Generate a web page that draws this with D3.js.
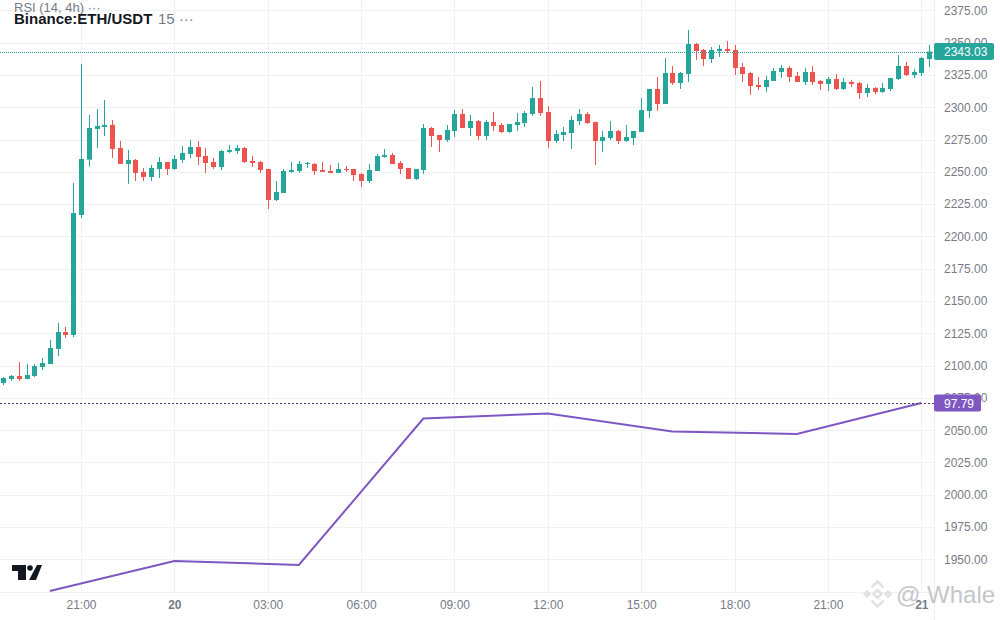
<!DOCTYPE html>
<html>
<head>
<meta charset="utf-8">
<script src="https://cdn.jsdelivr.net/npm/d3@7"></script>
<style>
body { margin: 0; background: #fff; overflow: hidden; }
text { font-family: "Liberation Sans", Arial, sans-serif; }
</style>
</head>
<body>
<script>
// 15 min candles, the first one opens 2.5h before the 21:00 tick
var firstCandleHour = -2.5;
var candleHours = 0.25;

var opens = [
2086.5,2089.6,2092.0,2089.6,2092.0,2098.9,2101.2,2112.9,2126.0,2123.7,
2216.6,2259.4,2283.2,2284.7,2286.3,2268.4,2256.1,2259.2,2249.9,2246.0,
2252.2,2257.6,2252.2,2259.2,2263.8,2269.2,2262.3,2257.6,2253.7,2265.4,
2266.1,2268.4,2258.4,2257.6,2252.2,2228.2,2233.6,2249.9,2250.6,2256.1,
2256.1,2251.4,2250.6,2249.1,2252.2,2252.2,2248.3,2242.9,2250.6,2261.5,
2263.0,2256.8,2253.0,2244.4,2251.4,2283.9,2278.5,2274.6,2281.6,2294.7,
2283.9,2289.3,2277.7,2288.6,2286.2,2280.8,2286.2,2287.8,2294.7,2307.1,
2296.3,2273.8,2278.5,2280.0,2289.3,2294.7,2288.6,2273.8,2276.2,2281.6,
2273.8,2276.2,2280.8,2297.1,2314.1,2302.5,2326.5,2318.7,2325.7,2348.9,
2344.3,2337.3,2343.5,2345.1,2344.3,2331.1,2326.5,2317.2,2315.6,2320.3,
2327.3,2330.4,2324.2,2319.5,2327.3,2320.3,2318.0,2321.8,2314.1,2319.5,
2318.7,2311.0,2314.9,2311.8,2314.1,2321.8,2331.9,2324.9,2326.5,2337.3];

var highs = [
2091.2,2092.7,2102.8,2101.2,2101.2,2105.9,2119.8,2133.0,2129.9,2241.4,
2333.5,2294.0,2298.6,2305.6,2290.1,2273.9,2266.9,2259.9,2253.0,2255.3,
2261.5,2257.6,2263.0,2270.0,2274.6,2273.9,2268.4,2260.7,2266.9,2270.8,
2270.8,2269.2,2262.3,2258.4,2252.2,2242.9,2252.2,2257.6,2258.4,2257.6,
2256.8,2257.6,2255.3,2256.8,2254.5,2252.2,2249.1,2256.0,2263.8,2267.7,
2264.6,2258.4,2253.0,2252.2,2287.0,2284.7,2278.5,2286.2,2297.8,2298.6,
2294.0,2290.1,2290.1,2296.3,2287.8,2287.0,2295.5,2297.1,2315.6,2320.3,
2300.9,2282.4,2284.7,2293.2,2298.6,2296.3,2288.6,2281.6,2289.3,2282.4,
2286.2,2281.6,2307.1,2314.1,2323.4,2338.1,2331.9,2327.3,2359.8,2349.7,
2345.1,2346.6,2348.2,2351.2,2348.2,2334.2,2327.3,2323.4,2324.2,2330.4,
2332.7,2331.9,2327.3,2330.4,2331.9,2321.1,2323.4,2325.7,2322.6,2321.1,
2319.5,2318.0,2315.6,2318.7,2322.6,2340.4,2335.0,2329.6,2338.9,2348.2];

var lows = [
2085.0,2088.1,2088.1,2089.6,2091.2,2096.6,2101.2,2107.4,2121.4,2122.1,
2214.3,2254.0,2268.4,2277.7,2260.7,2256.1,2240.6,2242.9,2242.9,2242.9,
2245.2,2247.6,2251.4,2256.8,2260.7,2255.3,2249.1,2252.2,2251.4,2264.6,
2263.8,2256.8,2253.7,2249.1,2221.2,2227.4,2233.6,2249.1,2249.1,2253.0,
2247.6,2249.9,2249.1,2249.1,2249.9,2242.9,2238.2,2241.3,2250.6,2260.7,
2256.0,2248.3,2244.4,2243.7,2248.3,2269.2,2265.3,2273.1,2276.9,2283.9,
2277.7,2274.6,2274.6,2281.6,2280.0,2280.0,2281.6,2284.7,2293.2,2293.2,
2268.4,2272.3,2273.8,2267.7,2286.2,2287.0,2255.3,2265.3,2274.6,2271.5,
2273.1,2270.8,2280.8,2291.6,2297.1,2302.5,2317.2,2314.1,2319.5,2336.5,
2331.9,2334.2,2338.9,2342.0,2324.9,2319.5,2309.5,2313.3,2311.8,2320.3,
2322.6,2319.5,2319.5,2317.2,2317.2,2313.3,2312.5,2313.3,2313.3,2315.6,
2306.4,2307.9,2310.2,2311.0,2312.5,2321.1,2324.2,2322.6,2324.2,2331.1];

var closes = [
2090.4,2092.0,2089.6,2092.7,2099.7,2102.0,2113.6,2126.0,2123.7,2218.1,
2259.9,2283.9,2285.5,2286.3,2267.7,2256.1,2259.2,2249.1,2246.0,2253.0,
2257.6,2252.2,2259.9,2264.6,2269.2,2261.5,2256.8,2253.7,2266.1,2266.9,
2268.4,2257.6,2256.8,2251.4,2228.2,2234.4,2250.6,2251.4,2256.1,2256.8,
2250.6,2249.9,2249.1,2252.2,2251.4,2247.5,2242.9,2251.4,2262.2,2263.0,
2256.0,2252.2,2244.4,2252.2,2283.9,2277.7,2274.6,2282.4,2294.7,2283.9,
2289.3,2277.7,2288.6,2285.5,2280.8,2287.0,2288.6,2295.5,2307.1,2295.5,
2273.8,2279.3,2280.8,2290.1,2294.7,2287.8,2273.8,2276.9,2281.6,2273.8,
2276.9,2281.6,2297.8,2314.1,2302.5,2326.5,2318.7,2326.5,2348.9,2343.5,
2337.3,2344.3,2345.1,2343.5,2330.4,2325.7,2316.4,2315.6,2321.1,2328.0,
2330.4,2323.4,2319.5,2327.3,2319.5,2318.0,2321.8,2314.1,2319.5,2318.0,
2311.0,2314.9,2311.8,2314.9,2322.6,2331.9,2324.9,2327.3,2338.1,2343.03];

// RSI (14, 4h) has its own hidden scale
var rsiHours = [-1, 3, 7, 11, 15, 19, 23, 27];
var rsiValues = [60.2, 66.2, 65.4, 94.7, 95.7, 92.1, 91.6, 97.79];

var priceTicks = [1950,1975,2000,2025,2050,2075,2100,2125,2150,2175,2200,2225,2250,2275,2300,2325,2350,2375];
var gridPrices = [1925].concat(priceTicks);
var timeTickHours = [0, 3, 6, 9, 12, 15, 18, 21, 24, 27];
var timeTickLabels = ["21:00", "20", "03:00", "06:00", "09:00", "12:00", "15:00", "18:00", "21:00", "21"];
var boldTimeTicks = ["20", "21"];

var lastPrice = 2343.03;
var lastRsi = 97.79;

var upColor = "#26a69a", downColor = "#ef5350", rsiColor = "#7e57c2";
var gridColor = "#f0f1f3", textColor = "#787b86";
var plotRight = 934, plotBottom = 592;

var svg = d3.select("body").append("svg")
.attr("width", 1000)
.attr("height", 620);

var x = d3.scaleLinear().domain([0, 27]).range([81, 921.3]);
var y = d3.scaleLinear().domain([1950, 2375]).range([559.4, 10.3]);
var rsiY = d3.scaleLinear().domain([60, 100]).range([592, 392]);

// grid
svg.append("g").selectAll("line")
.data(gridPrices)
.join("line")
.attr("x1", 0)
.attr("x2", plotRight)
.attr("y1", d => Math.round(y(d)) + 0.5)
.attr("y2", d => Math.round(y(d)) + 0.5)
.attr("stroke", gridColor);

svg.append("g").selectAll("line")
.data(timeTickHours)
.join("line")
.attr("x1", d => Math.round(x(d)) + 0.5)
.attr("x2", d => Math.round(x(d)) + 0.5)
.attr("y1", 0)
.attr("y2", plotBottom)
.attr("stroke", gridColor);

svg.append("line")
.attr("x1", plotRight + 0.5)
.attr("x2", plotRight + 0.5)
.attr("y1", 0)
.attr("y2", 620)
.attr("stroke", gridColor);

// axes
var priceAxis = svg.append("g")
.attr("transform", "translate(" + (plotRight + 5) + ",0)")
.call(d3.axisRight(y).tickValues(priceTicks).tickSize(0).tickFormat(d3.format(".2f")));
priceAxis.select(".domain").remove();
priceAxis.selectAll("text")
.attr("fill", textColor)
.attr("font-size", 12)
.attr("font-family", "Liberation Sans")
.attr("x", 5);

var timeAxis = svg.append("g")
.attr("transform", "translate(0," + plotBottom + ")")
.call(d3.axisBottom(x).tickValues(timeTickHours).tickSize(0)
  .tickFormat((d, i) => timeTickLabels[i]));
timeAxis.select(".domain").remove();
timeAxis.selectAll("text")
.attr("fill", textColor)
.attr("font-size", 12)
.attr("font-family", "Liberation Sans")
.attr("font-weight", function() { return boldTimeTicks.includes(this.textContent) ? "bold" : "normal"; })
.attr("y", 8);

// watermark
var mark = svg.append("g")
.attr("transform", "translate(877.5,594)")
.attr("fill", "none")
.attr("stroke", "#dfe0e4")
.attr("stroke-width", 2.4);
mark.append("path").attr("d", "M-6-6.5L0-12.5 6-6.5");
mark.append("path").attr("d", "M-6 6.5L0 12.5 6 6.5");
mark.append("path").attr("d", "M-10.5-2.5L-8 0-10.5 2.5-13 0ZM10.5-2.5L13 0 10.5 2.5 8 0ZM0-4L4 0 0 4-4 0Z");
svg.append("text")
.attr("x", 896)
.attr("y", 603)
.attr("fill", "#c4c6cc")
.attr("font-size", 24)
.attr("font-family", "Liberation Sans")
.text("@ Whale");

// candles
var candles = svg.append("g").selectAll("g")
.data(opens.map((d, i) => i))
.join("g");

candles.append("line")
.attr("x1", i => Math.round(x(firstCandleHour + i * candleHours)) + 0.5)
.attr("x2", i => Math.round(x(firstCandleHour + i * candleHours)) + 0.5)
.attr("y1", i => y(highs[i]))
.attr("y2", i => y(lows[i]))
.attr("stroke", i => closes[i] >= opens[i] ? upColor : downColor);

candles.append("rect")
.attr("x", i => Math.round(x(firstCandleHour + i * candleHours)) - 2)
.attr("width", 5)
.attr("y", i => y(Math.max(opens[i], closes[i])))
.attr("height", i => Math.max(1, Math.abs(y(opens[i]) - y(closes[i]))))
.attr("fill", i => closes[i] >= opens[i] ? upColor : downColor);

// last price line and label
svg.append("line")
.attr("x1", 0)
.attr("x2", plotRight)
.attr("y1", Math.round(y(lastPrice)) + 0.5)
.attr("y2", Math.round(y(lastPrice)) + 0.5)
.attr("stroke", upColor)
.attr("stroke-dasharray", "1 1");

// rsi
svg.append("path")
.attr("d", d3.line().x((d, i) => x(rsiHours[i])).y(d => rsiY(d))(rsiValues))
.attr("fill", "none")
.attr("stroke", rsiColor)
.attr("stroke-width", 2);

svg.append("line")
.attr("x1", 0)
.attr("x2", plotRight)
.attr("y1", Math.round(rsiY(lastRsi)) + 0.5)
.attr("y2", Math.round(rsiY(lastRsi)) + 0.5)
.attr("stroke", "#4a3a78")
.attr("stroke-dasharray", "2 2");

svg.append("rect")
.attr("x", plotRight)
.attr("y", y(lastPrice) - 8.5)
.attr("width", 60)
.attr("height", 17)
.attr("rx", 2)
.attr("fill", upColor);
svg.append("text")
.attr("x", plotRight + 10)
.attr("y", y(lastPrice) + 4.5)
.attr("fill", "#fff")
.attr("font-size", 12)
.text(lastPrice.toFixed(2));

svg.append("rect")
.attr("x", plotRight)
.attr("y", rsiY(lastRsi) - 8.5)
.attr("width", 47)
.attr("height", 17)
.attr("rx", 2)
.attr("fill", rsiColor);
svg.append("text")
.attr("x", plotRight + 10)
.attr("y", rsiY(lastRsi) + 4.5)
.attr("fill", "#fff")
.attr("font-size", 12)
.text(lastRsi.toFixed(2));

// legend
svg.append("text")
.attr("x", 14)
.attr("y", 12)
.attr("fill", "#787b86")
.attr("font-size", 13)
.text("RSI (14, 4h) \u00b7\u00b7\u00b7");
svg.append("text")
.attr("x", 14)
.attr("y", 24)
.attr("fill", "#131722")
.attr("font-size", 15)
.attr("font-weight", "bold")
.text("Binance:ETH/USDT");
svg.append("text")
.attr("x", 158)
.attr("y", 24)
.attr("fill", "#787b86")
.attr("font-size", 15)
.text("15 \u00b7\u00b7\u00b7");

// tradingview logo
var logo = svg.append("g").attr("fill", "#131722");
logo.append("path").attr("d", "M12 565H26V580H18V571H12Z");
logo.append("circle").attr("cx", 30).attr("cy", 568).attr("r", 2.8);
logo.append("path").attr("d", "M37 565H42L36 580H29Z");
</script>
</body>
</html>
